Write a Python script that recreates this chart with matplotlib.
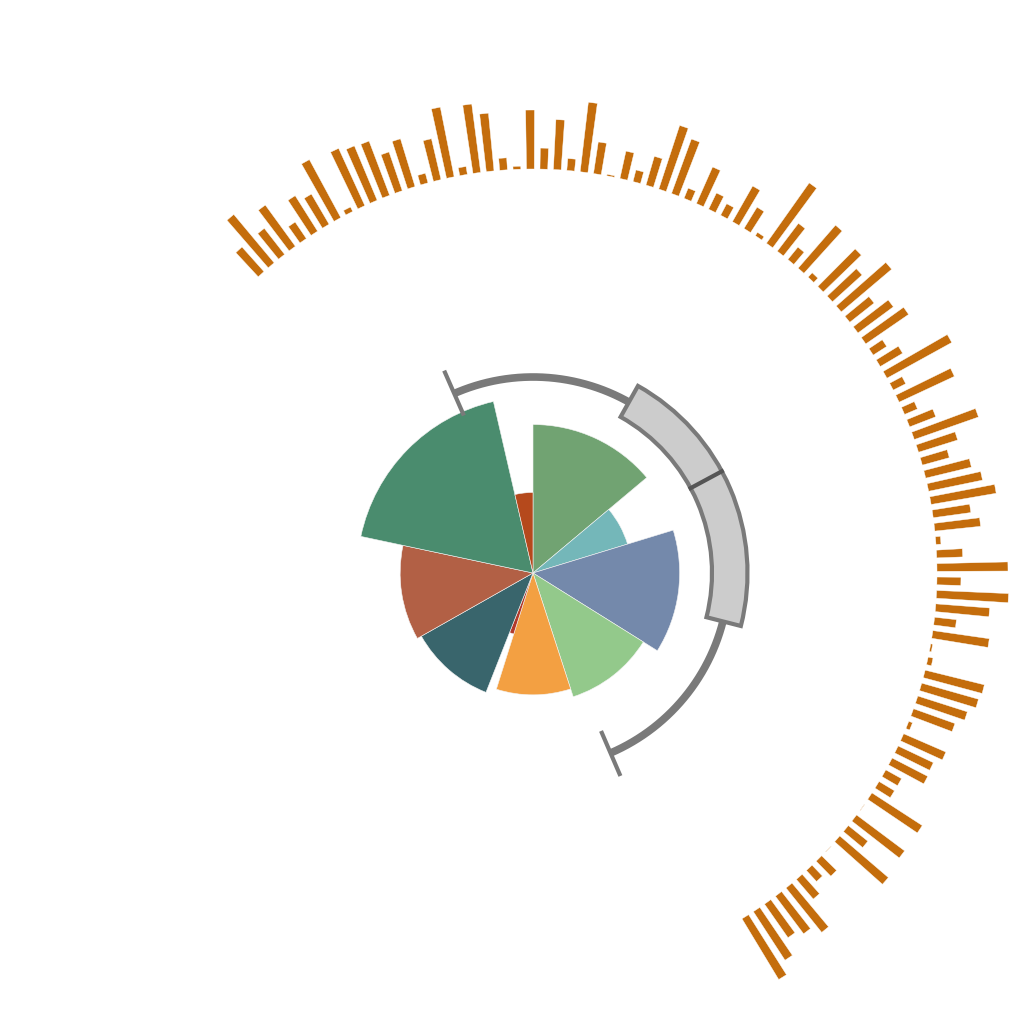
import numpy as np
import matplotlib
matplotlib.use('Agg')
import matplotlib.pyplot as plt

# inner rose: each value sets both the slice angle and the slice radius
rose_values = [50, 23, 49, 40, 35.5, 4, 39, 41.5, 65, 13]
rose_colors = ['#71a372', '#74b7b9', '#7489ab', '#93c98b', '#f3a042',
               '#b23a2a', '#39656c', '#b26045', '#4a8c6e', '#b5491c']

# boxplot drawn along the angle axis (degrees): low, q1, median, q3, high
box_stats = [-66.7, -14.3, 28.3, 60.7, 113.7]

# outer ring of bars, clockwise from the upper left
ring_values = [33, 63, 33, 51, 20, 42, 35, 66, 5, 63,
               59, 58, 41, 50, 10, 42, 71, 8, 69, 58,
               12, 3, 59, 21, 50, 12, 70, 32, 1.5, 28,
               12, 30, 67, 58, 11, 40, 18, 13, 41, 25,
               4, 74, 35, 16, 57, 6, 53, 40, 66, 31,
               44, 52, 16, 26, 74, 14, 61, 14, 28, 68,
               41, 28, 47, 55, 66, 38, 46, 5, 26, 71,
               24, 72, 54, 22, 57, 2, 5, 61, 59, 52,
               44, 4, 46, 39, 40, 18, 18, 60, 0.5, 60,
               25, 64, 0.5, 21, 15, 26, 57, 47, 41, 58, 71]

W = 1024
CX, CY = 533, 573   # centre of the polar plots (px from top left)
R = 500.

fig = plt.figure(figsize=(W/100., W/100.), dpi=100)
ax = fig.add_axes([(CX - R)/W, (W - CY - R)/W, 2*R/W, 2*R/W], projection='polar')
ax.axis('off')

# rose, clockwise from 12 o'clock
vals = np.array(rose_values, dtype=float)
widths = np.radians(vals/vals.sum()*360.)
starts = np.pi/2 - np.concatenate([[0], np.cumsum(widths)[:-1]])
centers = starts - widths/2
radii = np.interp(vals, [vals.min(), vals.max()], [64, 176])
ax.bar(centers, radii, width=widths, color=rose_colors,
       edgecolor='#f4f4f4', linewidth=0.4, zorder=2)

# polar boxplot
lo, q1, med, q3, hi = np.radians(box_stats)
t = np.linspace(lo, hi, 300)
ax.plot(t, np.full_like(t, 196.), color='#7a7a7a', lw=5.5, solid_capstyle='butt', zorder=2)
for a in (lo, hi):
    ax.plot([a, a], [172, 221], color='#7a7a7a', lw=3, solid_capstyle='butt', zorder=2)
ax.bar((q1 + q3)/2, 35.5, width=q3 - q1, bottom=179, color='#cccccc',
       edgecolor='#7a7a7a', linewidth=3, zorder=3)
ax.plot([med, med], [179, 214.5], color='#555555', lw=3, zorder=4)

# outer bars
n = len(ring_values)
theta = np.radians(132.3 - 1.906*np.arange(n))
ax.bar(theta, ring_values, width=np.radians(1.1), bottom=404,
       color='#c46d0c', edgecolor='white', linewidth=0.3, zorder=2)

ax.set_ylim(0, R)
fig.savefig('out.png', dpi=100)
